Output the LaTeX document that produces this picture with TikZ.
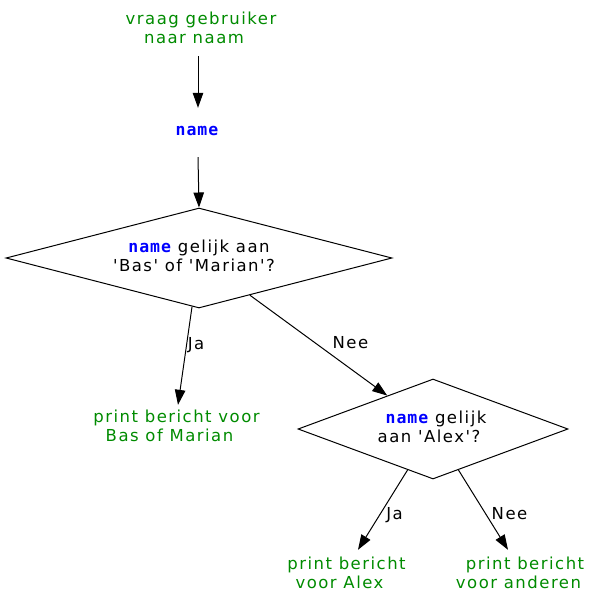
\documentclass[tikz,border=0pt]{standalone}
\usepackage{fontspec}
\usetikzlibrary{arrows.meta,shapes.geometric}
\newfontfamily\gvfont{DejaVu Sans}[LetterSpace=9]
\newfontfamily\gvmono{DejaVu Sans Mono}[LetterSpace=6]
\definecolor{gvgreen}{RGB}{0,139,0}
\newcommand{\nmword}[1]{\textcolor{blue}{\gvmono\bfseries #1}}
\begin{document}
\begin{tikzpicture}[x=1pt,y=-1pt,
  every node/.style={font=\gvfont\fontsize{16.5pt}{19pt}\selectfont, inner sep=0pt},
  gtext/.style={text=gvgreen, anchor=base},
  dia/.style={draw, diamond, line width=1pt, inner sep=0pt},
  arr/.style={line width=1pt, -{Triangle[length=15pt,width=10.5pt]}},
  elab/.style={text height=11.7pt, text depth=0pt, anchor=west}]
\useasboundingbox (0,0) rectangle (607,606);

\node[gtext] (q) at (201,24.5) {\begin{tabular}[t]{@{}c@{}}vraag gebruiker\\naar naam\hspace*{14pt}\end{tabular}};
\node[anchor=base, text=blue, text height=12pt, text depth=4pt,
      font=\gvmono\bfseries\fontsize{16.5pt}{19pt}\selectfont] (n) at (197,135) {name};
\node[dia, shape aspect=3.86, minimum width=386pt, minimum height=100pt] (d1) at (199,258)
  {\begin{tabular}{@{}c@{}}\nmword{name} gelijk aan\\'Bas' of 'Marian'?\hspace*{10pt}\end{tabular}};
\node[dia, shape aspect=2.7, minimum width=270pt, minimum height=100pt] (d2) at (433,429)
  {\begin{tabular}{@{}c@{}}\hspace*{6pt}\nmword{name} gelijk\\aan 'Alex'?\hspace*{8pt}\end{tabular}};
\node[gtext] (pbm) at (176.5,422) {\begin{tabular}[t]{@{}c@{}}print bericht voor\\Bas of Marian\hspace*{14pt}\end{tabular}};
\node[gtext] (pa) at (346.5,569) {\begin{tabular}[t]{@{}c@{}}print bericht\\voor Alex\hspace*{14pt}\end{tabular}};
\node[gtext] (po) at (525,569) {\begin{tabular}[t]{@{}c@{}}print bericht\\voor anderen\hspace*{13pt}\end{tabular}};

\draw[arr] ([xshift=-3pt,yshift=-6.8pt]q.south) -- ([xshift=1pt,yshift=15pt]n.north);
\draw[arr] ([xshift=1pt,yshift=-18pt]n.south) -- (d1.north);
\draw[arr] (d1) -- ([xshift=1.5pt,yshift=3.7pt]pbm.north)
  node[elab, pos=0.374, xshift=0.5pt] {Ja};
\draw[arr] (d1) -- (d2)
  node[elab, pos=0.475, xshift=17pt] {Nee};
\draw[arr] (d2) -- ([xshift=11.5pt,yshift=5.7pt]pa.north)
  node[elab, pos=0.55, xshift=5.5pt] {Ja};
\draw[arr] (d2) -- ([xshift=-17pt,yshift=5.7pt]po.north)
  node[elab, pos=0.55, xshift=5.5pt] {Nee};
\end{tikzpicture}
\end{document}
